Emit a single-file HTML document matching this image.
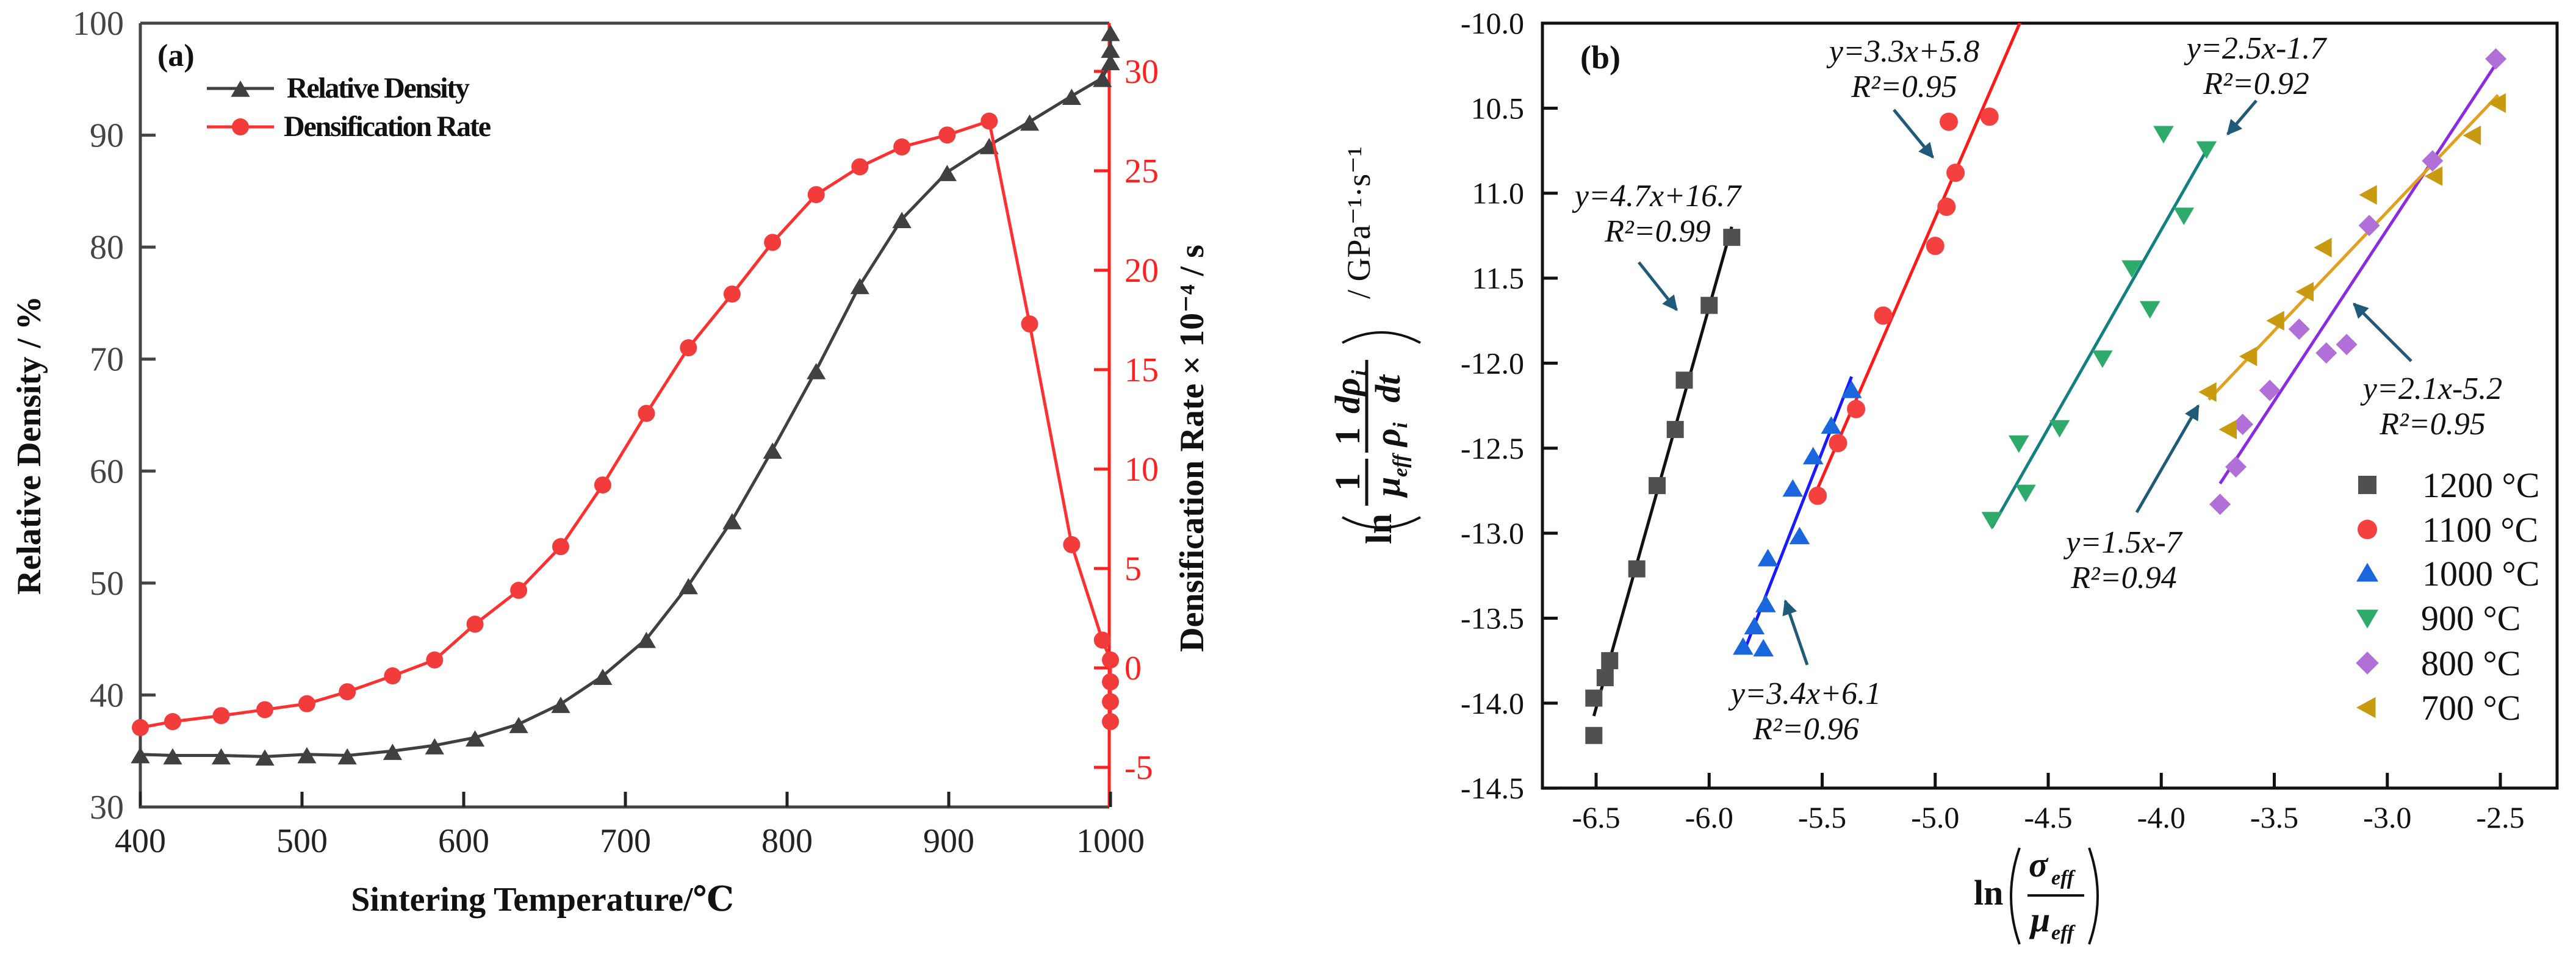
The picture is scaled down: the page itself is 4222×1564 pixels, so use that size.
<!DOCTYPE html>
<html><head><meta charset="utf-8"><style>
html,body{margin:0;padding:0;background:#fff;}
svg{display:block;}
svg text{font-family:"Liberation Serif","DejaVu Serif",serif !important;}
</style></head><body>
<svg id="fig" width="4222" height="1564" viewBox="0 0 4222 1564" xmlns="http://www.w3.org/2000/svg" font-family="Liberation Serif, serif">
<defs>
<marker id="ah" viewBox="0 0 10 10" refX="9" refY="5" markerWidth="5" markerHeight="5" orient="auto"><path d="M0,0 L10,5 L0,10 z" fill="#1f5a78"/></marker>
<clipPath id="clipB"><rect x="2528" y="38" width="1663" height="1254"/></clipPath>
</defs>
<g id="panelA"></g>
<g id="panelB"></g>
</svg>
<script>
// ---------- Panel (a) data ----------
const tempsDensity = [400,420,450,477,503,528,556,582,607,634,660,686,713,739,766,791,818,845,871,899,925,950,976,995,1000,1000,1000];
const relDensity   = [34.7,34.6,34.6,34.5,34.7,34.6,35.0,35.5,36.2,37.4,39.2,41.7,45.0,49.8,55.6,61.9,69.0,76.6,82.5,86.7,89.1,91.2,93.5,95.1,96.6,97.7,99.2];
const tempsRate    = [400,420,450,477,503,528,556,582,607,634,660,686,713,739,766,791,818,845,871,899,925,950,976,995,1000,1000,1000,1000];
const densRate     = [-3.0,-2.7,-2.4,-2.1,-1.8,-1.2,-0.4,0.4,2.2,3.9,6.1,9.2,12.8,16.1,18.8,21.4,23.8,25.2,26.2,26.8,27.5,17.3,6.2,1.4,0.4,-0.7,-1.7,-2.7];
const xTicksA = [400,500,600,700,800,900,1000];
const yTicksL = [30,40,50,60,70,80,90,100];
const yTicksR = [-5,0,5,10,15,20,25,30];

// ---------- Panel (b) data ----------
const seriesNames = ["1200 °C","1100 °C","1000 °C","900 °C","800 °C","700 °C"];
const x1200 = [-6.51,-6.51,-6.46,-6.44,-6.32,-6.23,-6.15,-6.11,-6.0,-5.9];
const y1200 = [-14.19,-13.97,-13.85,-13.75,-13.21,-12.72,-12.39,-12.10,-11.66,-11.26];
const x1100 = [-5.52,-5.43,-5.35,-5.23,-5.0,-4.95,-4.91,-4.94,-4.76];
const y1100 = [-12.78,-12.47,-12.27,-11.72,-11.31,-11.08,-10.88,-10.58,-10.55];
const x1000 = [-5.85,-5.76,-5.8,-5.75,-5.74,-5.6,-5.63,-5.54,-5.46,-5.37];
const y1000 = [-13.67,-13.68,-13.55,-13.42,-13.15,-13.02,-12.74,-12.55,-12.37,-12.16];
const x900 = [-4.75,-4.6,-4.63,-4.45,-4.26,-4.13,-4.05,-3.9,-3.99,-3.8];
const y900 = [-12.92,-12.76,-12.47,-12.38,-11.97,-11.44,-11.68,-11.13,-10.65,-10.74];
const x800 = [-3.74,-3.67,-3.64,-3.52,-3.39,-3.27,-3.18,-3.08,-2.8,-2.52];
const y800 = [-12.83,-12.61,-12.36,-12.16,-11.8,-11.94,-11.89,-11.19,-10.81,-10.21];
const x700 = [-3.79,-3.7,-3.61,-3.49,-3.36,-3.28,-3.08,-2.79,-2.62,-2.51];
const y700 = [-12.17,-12.39,-11.96,-11.75,-11.58,-11.32,-11.01,-10.9,-10.66,-10.47];
const xTicksB = [-6.5,-6.0,-5.5,-5.0,-4.5,-4.0,-3.5,-3.0,-2.5];
const xTickLabelsB = ["-6.5","-6.0","-5.5","-5.0","-4.5","-4.0","-3.5","-3.0","-2.5"];
const yTicksB = [-10.0,-10.5,-11.0,-11.5,-12.0,-12.5,-13.0,-13.5,-14.0,-14.5];
const yTickLabelsB = ["-10.0","10.5","11.0","11.5","-12.0","-12.5","-13.0","-13.5","-14.0","-14.5"];
const fitLabels = ["y=4.7x+16.7","y=3.3x+5.8","y=3.4x+6.1","y=2.5x-1.7","y=2.1x-5.2","y=1.5x-7"];
const r2Labels = ["R²=0.99","R²=0.95","R²=0.96","R²=0.92","R²=0.95","R²=0.94"];

const NS="http://www.w3.org/2000/svg";
function mk(parent, tag, attrs, text){
  const e=document.createElementNS(NS,tag);
  for(const k in attrs) e.setAttribute(k,attrs[k]);
  if(tag==='text') e.setAttribute('font-family','Liberation Serif, serif');
  if(text!==undefined) e.textContent=text;
  parent.appendChild(e); return e;
}
function markerPath(shape,cx,cy,s){
  if(shape==="sq") return `M${cx-s},${cy-s}h${2*s}v${2*s}h${-2*s}z`;
  if(shape==="up") return `M${cx},${cy-s*1.15}L${cx+s*1.2},${cy+s*0.9}L${cx-s*1.2},${cy+s*0.9}z`;
  if(shape==="down") return `M${cx},${cy+s*1.15}L${cx+s*1.2},${cy-s*0.9}L${cx-s*1.2},${cy-s*0.9}z`;
  if(shape==="dia") return `M${cx},${cy-s*1.25}L${cx+s*1.25},${cy}L${cx},${cy+s*1.25}L${cx-s*1.25},${cy}z`;
  if(shape==="left") return `M${cx-s*1.2},${cy}L${cx+s*0.9},${cy-s*1.15}L${cx+s*0.9},${cy+s*1.15}z`;
}

// ===== Panel A =====
const A=document.getElementById('panelA');
const xa=t=>230+(t-400)*2.65;
const yaL=v=>1323-(v-30)*18.357;
const yaR=r=>1095-r*32.6;

let e;
e=mk(A,'path',{d:`M230,38 H1818 M230,38 V1323 H1818`,stroke:'#444',"stroke-width":5,fill:'none'});


e=mk(A,'line',{x1:1818,y1:38,x2:1818,y2:1323,stroke:'#ff2020',"stroke-width":5});



xTicksA.forEach(t=>{
  e=mk(A,'line',{x1:xa(t),y1:1323,x2:xa(t),y2:1298,stroke:'#222',"stroke-width":5});
  
  
  e=mk(A,'text',{x:xa(t),y:1397,"text-anchor":'middle',"font-size":56,fill:'#222'},String(t));
  
  
});
yTicksL.forEach(v=>{
  e=mk(A,'line',{x1:230,y1:yaL(v),x2:255,y2:yaL(v),stroke:'#444',"stroke-width":5});
  
  
  e=mk(A,'text',{x:203,y:yaL(v)+19,"text-anchor":'end',"font-size":56,fill:'#444'},String(v));
  
  
});
yTicksR.forEach(v=>{
  e=mk(A,'line',{x1:1818,y1:yaR(v),x2:1793,y2:yaR(v),stroke:'#ff2020',"stroke-width":5});
  
  
  e=mk(A,'text',{x:1843,y:yaR(v)+19,"text-anchor":'start',"font-size":56,fill:'#ff2020'},String(v));
  
  
});

const ptsD=tempsDensity.map((t,i)=>[xa(t),yaL(relDensity[i])]);
e=mk(A,'polyline',{points:ptsD.map(p=>p.join(',')).join(' '),fill:'none',stroke:'#404040',"stroke-width":5});


ptsD.forEach(p=>{
  e=mk(A,'path',{d:markerPath('up',p[0],p[1]+3,13),fill:'#404040'});
  
  
});
const ptsR=tempsRate.map((t,i)=>[xa(t),yaR(densRate[i])]);
e=mk(A,'polyline',{points:ptsR.map(p=>p.join(',')).join(' '),fill:'none',stroke:'#ff3030',"stroke-width":5});


ptsR.forEach(p=>{
  e=mk(A,'circle',{cx:p[0],cy:p[1],r:14,fill:'#f23c3c'});
  
  
});

e=mk(A,'text',{x:258,y:108,"font-size":52,"font-weight":'bold',fill:'#111'},'(a)');


e=mk(A,'line',{x1:339,y1:145,x2:449,y2:145,stroke:'#404040',"stroke-width":5});


e=mk(A,'path',{d:markerPath('up',394,147,13),fill:'#404040'});


e=mk(A,'text',{x:470,y:160,"font-size":48,"font-weight":'bold',fill:'#111',textLength:300},'Relative Density');


e=mk(A,'line',{x1:339,y1:208,x2:449,y2:208,stroke:'#ff3030',"stroke-width":5});


e=mk(A,'circle',{cx:394,cy:208,r:14,fill:'#f23c3c'});


e=mk(A,'text',{x:465,y:223,"font-size":48,"font-weight":'bold',fill:'#111',textLength:340},'Densification Rate');



e=mk(A,'text',{x:889,y:1493,"text-anchor":'middle',"font-size":56,"font-weight":'bold',fill:'#111'},'Sintering Temperature/℃');


e=mk(A,'text',{x:0,y:0,"text-anchor":'middle',"font-size":56,"font-weight":'bold',fill:'#111',transform:'translate(66,730) rotate(-90)'},'Relative Density / %');


e=mk(A,'text',{x:0,y:0,"text-anchor":'middle',"font-size":56,"font-weight":'bold',fill:'#111',transform:'translate(1972,735) rotate(-90)'},'Densification Rate × 10⁻⁴ / s');



// ===== Panel B =====
const B=document.getElementById('panelB');
const xb=v=>2616+(v+6.5)*370.5;
const yb=v=>38+(-10-v)*278.7;
e=mk(B,'rect',{x:2528,y:38,width:1663,height:1254,fill:'none',stroke:'#111',"stroke-width":5});


xTicksB.forEach((v,i)=>{
  e=mk(B,'line',{x1:xb(v),y1:1292,x2:xb(v),y2:1267,stroke:'#111',"stroke-width":5});
  
  
  e=mk(B,'text',{x:xb(v),y:1357,"text-anchor":'middle',"font-size":50,fill:'#111'},xTickLabelsB[i]);
  
  
});
yTicksB.forEach((v,i)=>{
  e=mk(B,'line',{x1:2528,y1:yb(v),x2:2553,y2:yb(v),stroke:'#111',"stroke-width":5});
  
  
  e=mk(B,'text',{x:2498,y:yb(v)+17,"text-anchor":'end',"font-size":50,fill:'#111'},yTickLabelsB[i]);
  
  
});

const seriesX=[x1200,x1100,x1000,x900,x800,x700];
const seriesY=[y1200,y1100,y1000,y900,y800,y700];
const shapes=['sq','dot','up','down','dia','left'];
const mColors=['#505050','#f54040','#1a66dd','#2eaa6a','#b070d8','#c89a10'];
const lColors=['#111111','#ff1a1a','#1a1aff','#138080','#8a2be2','#e0a020'];
const keys=['1200','1100','1000','900','800','700'];
const lineG=mk(B,'g',{"clip-path":'url(#clipB)'});


seriesX.forEach((xs,s)=>{
  const ys=seriesY[s], n=xs.length;
  const mx=xs.reduce((a,b)=>a+b,0)/n, my=ys.reduce((a,b)=>a+b,0)/n;
  let sxy=0,sxx=0; xs.forEach((x,i)=>{sxy+=(x-mx)*(ys[i]-my);sxx+=(x-mx)*(x-mx);});
  const k=sxy/sxx, b0=my-k*mx;
  const x0=Math.min(...xs), x1=Math.max(...xs)+ (s===1?0.3:0);
  e=mk(lineG,'line',{x1:xb(x0),y1:yb(k*x0+b0),x2:xb(x1),y2:yb(k*x1+b0),stroke:lColors[s],"stroke-width":5});
  
  
});
seriesX.forEach((xs,s)=>{
  xs.forEach((x,i)=>{
    const cx=xb(x), cy=yb(seriesY[s][i]);
    if(shapes[s]==='dot') e=mk(B,'circle',{cx:cx,cy:cy,r:15,fill:mColors[s]});
    else e=mk(B,'path',{d:markerPath(shapes[s],cx,cy,14),fill:mColors[s]});
    
    
  });
});

const annX=[2717,3121,2960,3698,3987,3481];
const annY=[322,85,1138,80,638,890];
const arrows=[[2686,430,2748,508],[3104,180,3168,258],[2962,1090,2926,985],[3698,165,3651,220],[3952,592,3858,498],[3502,840,3603,665]];
fitLabels.forEach((t,i)=>{
  e=mk(B,'text',{x:annX[i],y:annY[i]+16,"text-anchor":'middle',"font-size":52,"font-style":'italic',fill:'#111'},t);
  
  
  e=mk(B,'text',{x:annX[i],y:annY[i]+74,"text-anchor":'middle',"font-size":52,"font-style":'italic',fill:'#111'},r2Labels[i]);
  
  
  const a=arrows[i];
  e=mk(B,'line',{x1:a[0],y1:a[1],x2:a[2],y2:a[3],stroke:'#1f5a78',"stroke-width":5,"marker-end":'url(#ah)'});
  
  
});

e=mk(B,'text',{x:2590,y:112,"font-size":54,"font-weight":'bold',fill:'#111'},'(b)');



const legY=[795,868,940,1013,1087,1160];
seriesNames.forEach((nm,s)=>{
  if(shapes[s]==='dot') e=mk(B,'circle',{cx:3880,cy:legY[s],r:16,fill:mColors[s]});
  else e=mk(B,'path',{d:markerPath(shapes[s],3880,legY[s],15),fill:mColors[s]});
  
  
  e=mk(B,'text',{x:s<3?3970:3968,y:legY[s]+20,"font-size":58,fill:'#111'},nm);
  
  
});

const xt=mk(B,'g',{});


mk(xt,'text',{x:3235,y:1483,"font-size":58,"font-weight":'bold',fill:'#111'},'ln');
mk(xt,'path',{d:'M3310,1390 Q3282,1470 3310,1548',fill:'none',stroke:'#111',"stroke-width":4});
mk(xt,'path',{d:'M3424,1390 Q3452,1470 3424,1548',fill:'none',stroke:'#111',"stroke-width":4});
mk(xt,'line',{x1:3323,y1:1468,x2:3416,y2:1468,stroke:'#111',"stroke-width":4});
mk(xt,'text',{x:3325,y:1437,"font-size":58,"font-style":'italic',"font-weight":'bold',fill:'#111'},'σ');
mk(xt,'text',{x:3362,y:1450,"font-size":34,"font-style":'italic',"font-weight":'bold',fill:'#111'},'eff');
mk(xt,'text',{x:3328,y:1527,"font-size":58,"font-style":'italic',"font-weight":'bold',fill:'#111'},'μ');
mk(xt,'text',{x:3362,y:1540,"font-size":34,"font-style":'italic',"font-weight":'bold',fill:'#111'},'eff');

const yt=mk(B,'g',{transform:'translate(2250,730) rotate(-90)'});


mk(yt,'text',{x:-162,y:30,"font-size":60,"font-weight":'bold',fill:'#111'},'ln');
mk(yt,'path',{d:'M-118,-50 Q-152,14 -118,78',fill:'none',stroke:'#111',"stroke-width":4});
mk(yt,'path',{d:'M168,-50 Q202,14 168,78',fill:'none',stroke:'#111',"stroke-width":4});
mk(yt,'line',{x1:-99,y1:-10,x2:-22,y2:-10,stroke:'#111',"stroke-width":5});
mk(yt,'line',{x1:-12,y1:-10,x2:140,y2:-10,stroke:'#111',"stroke-width":5});
mk(yt,'text',{x:-60,y:-22,"text-anchor":'middle',"font-size":58,"font-weight":'bold',fill:'#111'},'1');
mk(yt,'text',{x:-84,y:44,"font-size":58,"font-style":'italic',"font-weight":'bold',fill:'#111'},'μ');
mk(yt,'text',{x:-52,y:56,"font-size":34,"font-style":'italic',"font-weight":'bold',fill:'#111'},'eff');
mk(yt,'text',{x:15,y:-22,"text-anchor":'middle',"font-size":58,"font-weight":'bold',fill:'#111'},'1');
mk(yt,'text',{x:-2,y:44,"font-size":58,"font-style":'italic',"font-weight":'bold',fill:'#111'},'ρ');
mk(yt,'text',{x:28,y:56,"font-size":34,"font-style":'italic',"font-weight":'bold',fill:'#111'},'i');
mk(yt,'text',{x:52,y:-22,"font-size":58,"font-style":'italic',"font-weight":'bold',fill:'#111'},'dρ');
mk(yt,'text',{x:114,y:-12,"font-size":34,"font-style":'italic',"font-weight":'bold',fill:'#111'},'i');
mk(yt,'text',{x:70,y:44,"font-size":58,"font-style":'italic',"font-weight":'bold',fill:'#111'},'dt');
mk(yt,'text',{x:240,y:-5,"font-size":54,fill:'#111'},'/  GPa⁻¹·s⁻¹');
</script>
</body></html>
